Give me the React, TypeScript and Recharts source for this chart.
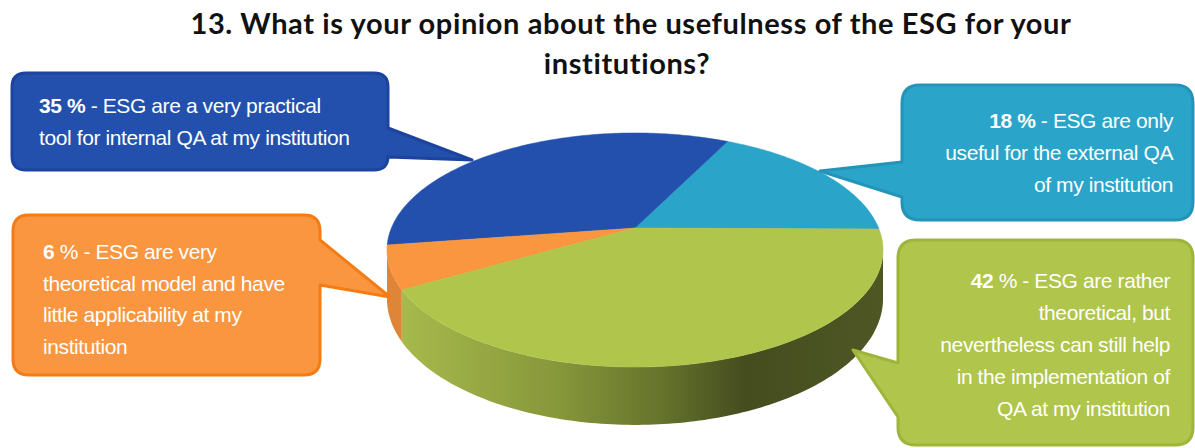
import React from 'react';
import { PieChart, Pie } from 'recharts';

// ---------- data ----------
const TITLE_LINES = [
  '13. What is your opinion about the usefulness of the ESG for your',
  'institutions?',
];
const SLICE_NAMES = ['Only useful for external QA', 'Very practical tool for internal QA', 'Very theoretical model', 'Rather theoretical, but can help'];
const SLICE_VALUES = [18, 35, 6, 42];
const LABEL_BOLD = ['18 %', '35 %', '6', '42'];
const LABEL_LINES = [
  [' - ESG are only', 'useful for the external QA', 'of my institution'],
  [' - ESG are a very practical', 'tool for internal QA at my institution'],
  [' % - ESG are very', 'theoretical model and have', 'little applicability at my', 'institution'],
  [' % - ESG are rather', 'theoretical, but', 'nevertheless can still help', 'in the implementation of', 'QA at my institution'],
];

// ---------- styles / layout ----------
const TOP_COLORS = ['#2aa5c9', '#2350ac', '#f9963f', '#afc54b'];
const WALL_COLORS = ['#1f7f9c', '#1a3d85', '#de8538', 'url(#greenWall)'];
const BOX_FILL = ['#2aa5c9', '#2350ac', '#f9963f', '#afc54b'];
const BOX_STROKE = ['#2394b8', '#1c449f', '#f57c14', '#9db53b'];

type Box = {
  x: number; y: number; w: number; h: number; r: number;
  side: 'left' | 'right'; t1: number; t2: number; tx: number; ty: number;
  textX: number; anchor: 'start' | 'end'; base: number; gap: number;
};
const BOXES: Box[] = [
  { x: 902, y: 85, w: 291, h: 135, r: 18, side: 'left', t1: 162, t2: 197, tx: 820, ty: 171, textX: 1173, anchor: 'end', base: 128, gap: 32 },
  { x: 12, y: 73, w: 376, h: 97, r: 14, side: 'right', t1: 128, t2: 157, tx: 472, ty: 160, textX: 39, anchor: 'start', base: 113, gap: 32 },
  { x: 13, y: 215, w: 307, h: 160, r: 16, side: 'right', t1: 240, t2: 285, tx: 390, ty: 297, textX: 43, anchor: 'start', base: 259, gap: 31.5 },
  { x: 898, y: 240, w: 295, h: 205, r: 18, side: 'left', t1: 363, t2: 417, tx: 853, ty: 350, textX: 1170, anchor: 'end', base: 288, gap: 32 },
];

const PIE_CX = 635;
const PIE_CY = 228;
const PIE_R = 100;
const K = 0.188; // perspective strength
const AX = 2.436; // horizontal radius factor
const BY = 1.129; // vertical radius factor
const DEPTH = 47;
const SIL0 = 180 + (Math.asin(K) * 180) / Math.PI;
const SIL1 = 360 - (Math.asin(K) * 180) / Math.PI;

const data = SLICE_NAMES.map((name, i) => ({ name, value: SLICE_VALUES[i] }));

function scaleAt(deg: number) {
  const v = Math.sin((deg * Math.PI) / 180);
  return 1 / (1 + K * v);
}
function proj(cx: number, cy: number, r: number, deg: number): [number, number] {
  const t = (deg * Math.PI) / 180;
  const u = Math.cos(t);
  const v = Math.sin(t);
  const s = 1 / (1 + K * v);
  return [cx + r * AX * u * s, cy - r * BY * v * s];
}
function arcPts(cx: number, cy: number, r: number, a: number, b: number, dy = 0) {
  const pts: [number, number][] = [];
  const n = Math.max(2, Math.ceil(Math.abs(b - a)));
  for (let k = 0; k <= n; k++) {
    const d = a + ((b - a) * k) / n;
    const p = proj(cx, cy, r, d);
    pts.push([p[0], p[1] + dy * scaleAt(d)]);
  }
  return pts;
}

const renderWall = (props: any) => {
  const { cx, cy, outerRadius, startAngle, endAngle, index } = props;
  const s = Math.min(startAngle, endAngle);
  const e = Math.max(startAngle, endAngle);
  const paths: string[] = [];
  for (const off of [-360, 0, 360]) {
    const lo = Math.max(s, SIL0 + off);
    const hi = Math.min(e, SIL1 + off);
    if (hi > lo) {
      const top = arcPts(cx, cy, outerRadius, lo, hi, 0);
      const bot = arcPts(cx, cy, outerRadius, hi, lo, DEPTH);
      const pts = [...top, ...bot];
      paths.push('M' + pts.map((p) => `${p[0].toFixed(2)},${p[1].toFixed(2)}`).join(' L') + ' Z');
    }
  }
  const w = outerRadius * AX * 1.02;
  return (
    <g key={`wall-${index}`}>
      <defs>
        <linearGradient id="greenWall" gradientUnits="userSpaceOnUse" x1={cx - w} y1={0} x2={cx + w} y2={0}>
          <stop offset="0" stopColor="#aabd4d" />
          <stop offset="0.35" stopColor="#86963a" />
          <stop offset="0.55" stopColor="#66742c" />
          <stop offset="0.72" stopColor="#454d1f" />
          <stop offset="1" stopColor="#4e5724" />
        </linearGradient>
      </defs>
      {paths.map((d, k) => (
        <path key={k} d={d} fill={WALL_COLORS[index]} stroke="none" />
      ))}
    </g>
  );
};

const renderTop = (props: any) => {
  const { cx, cy, outerRadius, startAngle, endAngle, index } = props;
  const pts = arcPts(cx, cy, outerRadius, startAngle, endAngle, 0);
  const d = `M${cx},${cy} L` + pts.map((p) => `${p[0].toFixed(2)},${p[1].toFixed(2)}`).join(' L') + ' Z';
  return <path key={`top-${index}`} d={d} fill={TOP_COLORS[index]} stroke={TOP_COLORS[index]} strokeWidth={0.5} />;
};

function calloutPath(b: Box) {
  const { x, y, w, h, r, side, t1, t2, tx, ty } = b;
  const R = x + w;
  const B = y + h;
  let d = `M${x + r},${y} H${R - r} Q${R},${y} ${R},${y + r}`;
  if (side === 'right') d += ` V${t1} L${tx},${ty} L${R},${t2}`;
  d += ` V${B - r} Q${R},${B} ${R - r},${B} H${x + r} Q${x},${B} ${x},${B - r}`;
  if (side === 'left') d += ` V${t2} L${tx},${ty} L${x},${t1}`;
  d += ` V${y + r} Q${x},${y} ${x + r},${y} Z`;
  return d;
}

const FONT = "'Liberation Sans', Arial, sans-serif";

const renderCallout = (props: any) => {
  const { index } = props;
  const b = BOXES[index];
  const lines = LABEL_LINES[index];
  return (
    <g key={`callout-${index}`}>
      <path d={calloutPath(b)} fill={BOX_FILL[index]} stroke={BOX_STROKE[index]} strokeWidth={3} strokeLinejoin="round" />
      {lines.map((ln, k) => (
        <text
          key={k}
          x={b.textX}
          y={b.base + k * b.gap}
          fill="#ffffff"
          fontSize={21}
          fontFamily={FONT}
          letterSpacing={-0.4}
          textAnchor={b.anchor}
        >
          {k === 0 ? (
            <>
              <tspan fontWeight={700}>{LABEL_BOLD[index]}</tspan>
              <tspan>{ln}</tspan>
            </>
          ) : (
            ln
          )}
        </text>
      ))}
    </g>
  );
};

const TITLE_FONT = "Lato, 'Open Sans', sans-serif";

export default function App() {
  return (
    <div style={{ position: 'absolute', left: 0, top: 0, width: 1195, height: 448, background: '#ffffff' }}>
      <PieChart width={1195} height={448} margin={{ top: 0, right: 0, bottom: 0, left: 0 }}>
        <text x={631} y={34} textAnchor="middle" fontFamily={TITLE_FONT} fontWeight={700} fontSize={29} letterSpacing={0.6} fill="#111111">
          {TITLE_LINES[0]}
        </text>
        <text x={627} y={74} textAnchor="middle" fontFamily={TITLE_FONT} fontWeight={700} fontSize={29} letterSpacing={0.6} fill="#111111">
          {TITLE_LINES[1]}
        </text>
        <Pie
          data={data}
          dataKey="value"
          nameKey="name"
          cx={PIE_CX}
          cy={PIE_CY}
          outerRadius={PIE_R}
          startAngle={-0.5}
          endAngle={359.5}
          fill="none"
          stroke="none"
          label={renderWall}
          labelLine={false}
          isAnimationActive={false}
        />
        <Pie
          data={data}
          dataKey="value"
          nameKey="name"
          cx={PIE_CX}
          cy={PIE_CY}
          outerRadius={PIE_R}
          startAngle={-0.5}
          endAngle={359.5}
          fill="none"
          stroke="none"
          label={renderTop}
          labelLine={false}
          isAnimationActive={false}
        />
        <Pie
          data={data}
          dataKey="value"
          nameKey="name"
          cx={PIE_CX}
          cy={PIE_CY}
          outerRadius={PIE_R}
          startAngle={-0.5}
          endAngle={359.5}
          fill="none"
          stroke="none"
          label={renderCallout}
          labelLine={false}
          isAnimationActive={false}
        />
      </PieChart>
    </div>
  );
}
